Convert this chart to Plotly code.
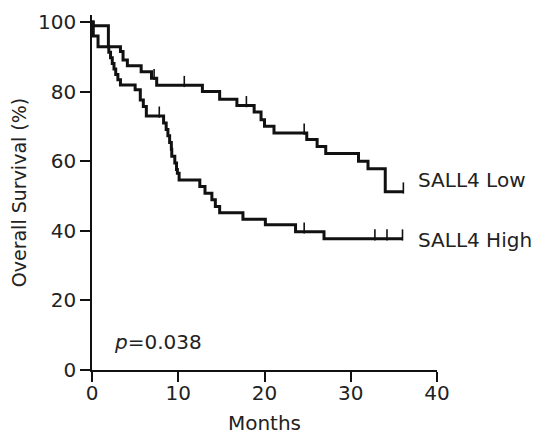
import plotly.graph_objects as go

# SALL4 Low group: event times (months) and survival (%) after each step
low_times = [0.1, 1.9, 3.3, 3.6, 4.1, 5.7, 6.9, 7.5, 12.8, 14.8, 16.8, 18.8, 19.6, 20.0,
             21.1, 24.9, 26.1, 27.1, 30.9, 32.0, 34.0]
low_surv = [98.9, 92.9, 91.5, 89.1, 87.4, 85.7, 83.8, 81.8, 80.0, 77.8, 76.0, 74.1, 71.9, 70.0,
            68.1, 66.2, 64.2, 62.2, 60.0, 57.8, 51.2]
low_censor = [7.2, 10.7, 17.9, 24.6, 36.1]
low_end = 36.1

# SALL4 High group
high_times = [0.15, 0.7, 1.95, 2.15, 2.35, 2.55, 2.75, 3.0, 3.3, 5.0, 5.6, 5.95, 6.3,
              8.3, 8.6, 8.8, 9.0, 9.2, 9.25, 9.6, 9.8, 9.9, 10.1,
              12.5, 13.1, 13.9, 14.3, 14.8, 17.5, 20.1, 23.6, 26.9]
high_surv = [96.0, 92.9, 91.3, 89.7, 88.1, 86.5, 84.9, 83.4, 81.9, 80.5, 77.6, 75.7, 73.0,
             71.0, 69.1, 67.3, 65.4, 63.4, 61.4, 59.5, 57.6, 56.5, 54.6,
             52.7, 50.8, 48.9, 47.0, 45.2, 43.3, 41.7, 39.7, 37.7]
high_censor = [7.8, 24.6, 32.8, 34.2, 36.0]
high_end = 36.0

x_ticks = [0, 10, 20, 30, 40]
y_ticks = [0, 20, 40, 60, 80, 100]

FONT = "DejaVu Sans, sans-serif"
INK = "#222222"
FS = 20


def step_xy(times, surv, end):
    xs = [0] + list(times) + [end]
    ys = [100] + list(surv) + [surv[-1]]
    return xs, ys


def surv_at(times, surv, t):
    v = 100
    for ti, si in zip(times, surv):
        if ti <= t:
            v = si
    return v


fig = go.Figure()
for times, surv, cens, end in [(low_times, low_surv, low_censor, low_end),
                               (high_times, high_surv, high_censor, high_end)]:
    xs, ys = step_xy(times, surv, end)
    fig.add_trace(go.Scatter(x=xs, y=ys, mode="lines", line=dict(color="#111111", width=3, shape="hv"),
                             showlegend=False, hoverinfo="skip", cliponaxis=False))
    cy = [surv_at(times, surv, t) + 1.1 for t in cens]
    fig.add_trace(go.Scatter(x=cens, y=cy, mode="markers",
                             marker=dict(symbol="line-ns", size=8, line=dict(color="#111111", width=1.6)),
                             showlegend=False, hoverinfo="skip", cliponaxis=False))

fig.add_annotation(x=low_end, y=low_surv[-1] + 3.3, text="SALL4 Low", xref="x", yref="y",
                   xanchor="left", yanchor="middle", xshift=13, showarrow=False,
                   font=dict(family=FONT, size=FS, color=INK))
fig.add_annotation(x=high_end, y=high_surv[-1] - 0.3, text="SALL4 High", xref="x", yref="y",
                   xanchor="left", yanchor="middle", xshift=13, showarrow=False,
                   font=dict(family=FONT, size=FS, color=INK))
fig.add_annotation(x=2.3, y=8, text="<i>p</i>=0.038", xref="x", yref="y",
                   xanchor="left", yanchor="middle", showarrow=False,
                   font=dict(family=FONT, size=FS, color=INK))

axis_common = dict(showgrid=False, zeroline=False, showline=True, linecolor="#111111", linewidth=1.5,
                   ticks="outside", ticklen=10, tickwidth=1.5, tickcolor="#111111", automargin=False,
                   tickfont=dict(family=FONT, size=FS, color=INK))

fig.update_xaxes(range=[0, 40], tickvals=x_ticks, ticktext=[str(v) for v in x_ticks],
                 ticklabelstandoff=-6,
                 title=dict(text="Months", font=dict(family=FONT, size=FS, color=INK), standoff=12),
                 **axis_common)
fig.update_yaxes(range=[0, 102], tickvals=y_ticks, ticktext=[str(v) for v in y_ticks],
                 title=dict(text="Overall Survival (%)", font=dict(family=FONT, size=19, color=INK), standoff=10),
                 **axis_common)

# page body adds an 8px offset, so the figure is sized and margined to compensate
fig.update_layout(width=534, height=428, margin=dict(l=84, r=105, t=7, b=66),
                  plot_bgcolor="white", paper_bgcolor="white")

fig.write_html("out.html")
